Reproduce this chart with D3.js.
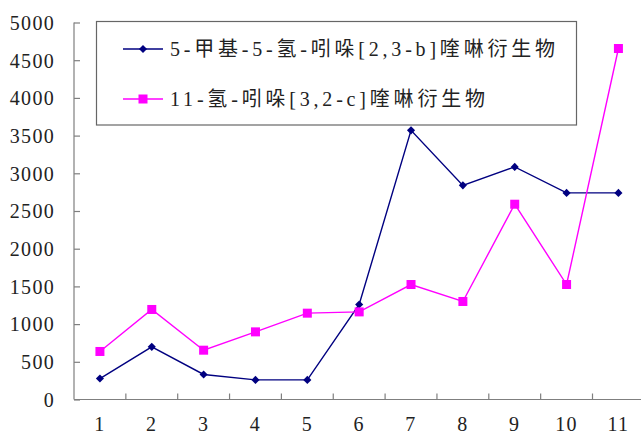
<!DOCTYPE html>
<html>
<head>
<meta charset="utf-8">
<script src="https://cdn.jsdelivr.net/npm/d3@7"></script>
<style>
  html, body { margin: 0; padding: 0; background: #fff; }
  svg { display: block; }
</style>
</head>
<body>
<svg id="chart" width="641" height="436"></svg>
<script>
// Sample numbers on the x axis
const categories = ["1", "2", "3", "4", "5", "6", "7", "8", "9", "10", "11"];

// Series names
const seriesNames = [
  "5-甲基-5-氢-吲哚[2,3-b]喹啉衍生物",
  "11-氢-吲哚[3,2-c]喹啉衍生物"
];

// Values for each series
const seriesA = [278, 698, 332, 260, 260, 1260, 3570, 2840, 3085, 2740, 2740];
const seriesB = [637, 1194, 654, 897, 1145, 1162, 1525, 1300, 2590, 1525, 4655];

// Y tick values
const yTicks = [0, 500, 1000, 1500, 2000, 2500, 3000, 3500, 4000, 4500, 5000];

const svg = d3.select("#chart");
const plotLeft = 74, plotTop = 22.5, plotBottom = 399.5, bandW = 51.85;
const plotRight = plotLeft + bandW * categories.length;

const x = d3.scaleBand().domain(categories).range([plotLeft, plotRight]).padding(0);
const y = d3.scaleLinear().domain([0, 5000]).range([plotBottom, plotTop]);

const axisColor = "#7f7f7f";
const numFont = "'Times New Roman', Tinos, 'Liberation Serif', 'DejaVu Serif', serif";
const labelFont = "'Times New Roman', Tinos, 'Liberation Serif', 'Noto Sans CJK SC', serif";

// Y axis with inward ticks
const yAxis = svg.append("g").attr("transform", `translate(${plotLeft},0)`)
  .call(d3.axisLeft(y).tickValues(yTicks).tickSize(-6).tickPadding(0).tickFormat(d3.format("d")))
  .attr("font-family", null).attr("font-size", null);
yAxis.select(".domain").attr("stroke", axisColor).attr("stroke-width", 1.2).attr("d", `M0,${plotTop}V${plotBottom}`);
yAxis.selectAll(".tick line").attr("stroke", axisColor).attr("stroke-width", 1.2);
yAxis.selectAll(".tick text")
  .attr("x", -19).attr("dy", "0.34em")
  .style("font-family", numFont)
  .style("font-size", "20px").style("letter-spacing", "1.3px").attr("fill", "#222");

// X axis: ticks at category boundaries, labels at centers
const xAxisG = svg.append("g");
xAxisG.append("line")
  .attr("x1", plotLeft).attr("x2", plotRight)
  .attr("y1", plotBottom).attr("y2", plotBottom)
  .attr("stroke", axisColor).attr("stroke-width", 1.2);
xAxisG.selectAll("line.tk").data(categories.slice(1))
  .join("line").attr("class", "tk")
  .attr("x1", d => x(d)).attr("x2", d => x(d))
  .attr("y1", plotBottom).attr("y2", plotBottom - 6)
  .attr("stroke", axisColor).attr("stroke-width", 1.2);
xAxisG.selectAll("text").data(categories)
  .join("text")
  .attr("x", d => x(d) + x.bandwidth() / 2)
  .attr("y", 431)
  .attr("text-anchor", "middle")
  .attr("fill", "#222")
  .style("font-family", numFont)
  .style("font-size", "20px").style("letter-spacing", "1.3px")
  .text(d => d);

const cx = (d, i) => x(categories[i]) + x.bandwidth() / 2;
const line = d3.line().x(cx).y(d => y(d));

const colA = "#000080", colB = "#ff00ff";

// Series A: navy line with diamond markers
svg.append("path").datum(seriesA)
  .attr("d", line).attr("fill", "none")
  .attr("stroke", colA).attr("stroke-width", 1.4);
svg.selectAll("path.dA").data(seriesA).join("path").attr("class", "dA")
  .attr("d", d3.symbol(d3.symbolDiamond2, 42))
  .attr("transform", (d, i) => `translate(${cx(d, i)},${y(d)})`)
  .attr("fill", colA);

// Series B: magenta line with square markers
svg.append("path").datum(seriesB)
  .attr("d", line).attr("fill", "none")
  .attr("stroke", colB).attr("stroke-width", 1.4);
svg.selectAll("rect.sB").data(seriesB).join("rect").attr("class", "sB")
  .attr("x", (d, i) => cx(d, i) - 4.5).attr("y", d => y(d) - 4.5)
  .attr("width", 9).attr("height", 9)
  .attr("fill", colB);

// Legend
const lg = svg.append("g");
lg.append("rect")
  .attr("x", 96.5).attr("y", 21.5).attr("width", 480).attr("height", 103.5)
  .attr("fill", "#fff").attr("stroke", "#666").attr("stroke-width", 1.2);
const legendRows = [
  { name: seriesNames[0], color: colA, shape: "diamond", y: 49, width: 385 },
  { name: seriesNames[1], color: colB, shape: "square", y: 99, width: 315 }
];
legendRows.forEach(r => {
  lg.append("line").attr("x1", 123).attr("x2", 163)
    .attr("y1", r.y).attr("y2", r.y)
    .attr("stroke", r.color).attr("stroke-width", 1.4);
  if (r.shape === "diamond") {
    lg.append("path").attr("d", d3.symbol(d3.symbolDiamond2, 42))
      .attr("transform", `translate(143,${r.y})`).attr("fill", r.color);
  } else {
    lg.append("rect").attr("x", 138.5).attr("y", r.y - 4.5)
      .attr("width", 9).attr("height", 9).attr("fill", r.color);
  }
  lg.append("text").attr("x", 170).attr("y", r.y + 7)
    .attr("fill", "#222")
    .style("font-family", labelFont)
    .style("font-size", "20px")
    .attr("textLength", r.width).attr("lengthAdjust", "spacing")
    .text(r.name);
});
</script>
</body>
</html>
